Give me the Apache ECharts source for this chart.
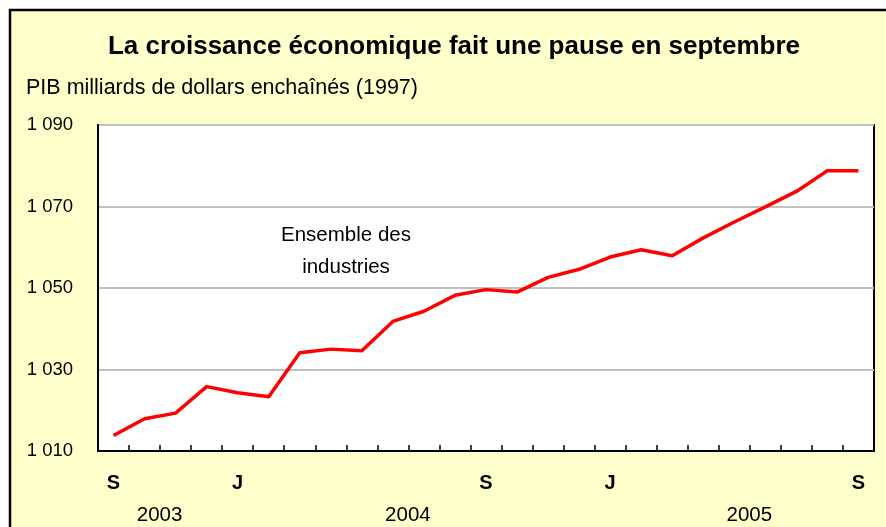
<!DOCTYPE html>
<html>
<head>
<meta charset="utf-8">
<script src="https://cdn.jsdelivr.net/npm/echarts@6/dist/echarts.min.js"></script>
<style>
html,body{margin:0;padding:0;background:#fff;}
#chart{width:886px;height:527px;}
</style>
</head>
<body>
<div id="chart"></div>
<script>
// Months Sep 2003 .. Sep 2005
var months = ['2003-09','2003-10','2003-11','2003-12','2004-01','2004-02','2004-03','2004-04','2004-05','2004-06','2004-07','2004-08','2004-09','2004-10','2004-11','2004-12','2005-01','2005-02','2005-03','2005-04','2005-05','2005-06','2005-07','2005-08','2005-09'];
var monthLabels = ['S','','','','J','','','','','','','','S','','','','J','','','','','','','','S'];
var yearLabels = ['','2003','','','','','','','','2004','','','','','','','','','','','2005','','','',''];
var gdp = [1013.8, 1017.9, 1019.3, 1025.8, 1024.3, 1023.3, 1034.1, 1035.0, 1034.6, 1041.8, 1044.3, 1048.2, 1049.6, 1049.0, 1052.6, 1054.6, 1057.6, 1059.4, 1057.9, 1062.3, 1066.2, 1069.9, 1073.7, 1078.8, 1078.8];
var yTicks = [1010, 1030, 1050, 1070, 1090];
var titleText = 'La croissance économique fait une pause en septembre';
var subtitleText = 'PIB milliards de dollars enchaînés (1997)';
var seriesName = 'Ensemble des\nindustries';

var FONT = '"Liberation Sans", Arial, sans-serif';
var chart = echarts.init(document.getElementById('chart'), null, {renderer: 'canvas'});
function fmtThousands(v){
  var s = String(Math.round(v));
  return s.replace(/\B(?=(\d{3})+(?!\d))/g, ' ');
}
chart.setOption({
  backgroundColor: '#ffffff',
  animation: false,
  title: [{
    text: titleText,
    left: 454, top: 34, textAlign: 'center', padding: 0,
    textStyle: {fontFamily: FONT, fontSize: 26, fontWeight: 'bold', color: '#000'}
  },{
    text: subtitleText,
    left: 26, top: 77, padding: 0,
    textStyle: {fontFamily: FONT, fontSize: 21.5, fontWeight: 'normal', color: '#000'}
  }],
  graphic: [{
    type: 'rect', z: -10, silent: true,
    shape: {x: 10, y: 10, width: 900, height: 540},
    style: {fill: '#FFFFCC', stroke: '#000', lineWidth: 2.5}
  },{
    type: 'text', z: 10, silent: true,
    x: 346, y: 219,
    style: {text: seriesName, fontFamily: FONT, fontSize: 20.5, fill: '#000', align: 'center', verticalAlign: 'top', lineHeight: 32}
  }],
  grid: {left: 98, right: 12, top: 125, bottom: 76, show: true, backgroundColor: '#ffffff', borderColor: '#000', borderWidth: 2, containLabel: false},
  xAxis: [{
    type: 'category', data: months, boundaryGap: true, position: 'bottom',
    axisLine: {show: true, lineStyle: {color: '#000', width: 2}},
    axisTick: {show: true, inside: true, length: 6, interval: 0, lineStyle: {color: '#000', width: 1.5}},
    axisLabel: {interval: 0, margin: 22, fontFamily: FONT, fontSize: 20, fontWeight: 'bold', color: '#000',
      formatter: function(v, i){ return monthLabels[i]; }},
    splitLine: {show: false}
  },{
    type: 'category', data: months, boundaryGap: true, position: 'bottom',
    axisLine: {show: false}, axisTick: {show: false},
    axisLabel: {interval: 0, margin: 54, fontFamily: FONT, fontSize: 20.5, color: '#000', padding: [0, 0, 0, 30],
      formatter: function(v, i){ return yearLabels[i]; }},
    splitLine: {show: false}
  }],
  yAxis: {
    type: 'value', min: 1010, max: 1090, interval: 20,
    axisLine: {show: true, lineStyle: {color: '#000', width: 2}},
    axisTick: {show: false},
    axisLabel: {margin: 25, fontFamily: FONT, fontSize: 18.5, color: '#000', padding: [4, 0, 0, 0], formatter: function(v){ return fmtThousands(v); }},
    splitLine: {show: true, lineStyle: {color: '#C0C0C0', width: 2}}
  },
  series: [{
    name: 'Ensemble des industries', type: 'line', data: gdp, xAxisIndex: 0,
    showSymbol: false, symbol: 'none', smooth: false,
    lineStyle: {color: '#FF0000', width: 3.5}, z: 5
  }]
});
</script>
</body>
</html>
